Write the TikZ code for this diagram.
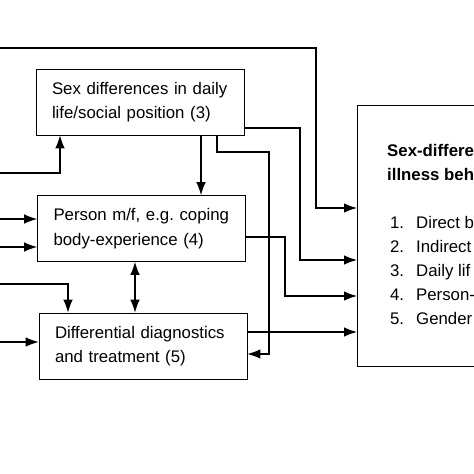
\documentclass[tikz,border=0pt]{standalone}
\usepackage{fontspec}
\setmainfont{Liberation Sans}
\usetikzlibrary{arrows.meta}
\tikzset{
  factor/.style={draw, line width=0.7pt, minimum height=66pt, text width=180pt,
    inner xsep=14pt, inner ysep=0pt, align=left,
    font=\fontsize{16.8}{24.5}\selectfont\frenchspacing},
  link/.style={line width=1.1pt, -{Latex[length=13pt,width=9.5pt]}},
  twoway/.style={line width=1.1pt, {Latex[length=13pt,width=9.5pt]}-{Latex[length=13pt,width=9.5pt]}},
}
\begin{document}
\begin{tikzpicture}[x=1pt, y=-1pt]
            \clip (0,0) rectangle (474,474);

            % Kasten in der Mitte
            \node (daily) at (140,102) [factor] {\hspace*{2pt}Sex differences in daily\\ \hspace*{2pt}life/social position (3)};
            \node (person) at (141.5,228.5) [factor] {\hspace*{2pt}Person m/f, e.g. coping\\ \hspace*{2pt}body-experience (4)};
            \node (diag) at (143,346) [factor] {\hspace*{2pt}Differential diagnostics\\ \hspace*{2pt}and treatment (5)};

            % Kasten rechts
            \node (out) at (357,105) [draw, line width=0.7pt, anchor=north west,
              minimum width=200pt, minimum height=261pt] {};
            \node (outtext) at (387,144) [anchor=north west, inner sep=0pt, align=left,
              font=\fontsize{16.8}{23.8}\selectfont]
              {\textbf{Sex-differe}\\
               \textbf{illness beh}\\[25pt]
               \makebox[29pt][l]{\,1.}Direct b\\
               \makebox[29pt][l]{\,2.}Indirect\\
               \makebox[29pt][l]{\,3.}Daily lif\\
               \makebox[29pt][l]{\,4.}Person-\\
               \makebox[29pt][l]{\,5.}Gender};

            % Eingaenge von links
            \coordinate (top) at (0,48);
            \coordinate (in3) at (0,173);
            \coordinate (in4a) at (0,219);
            \coordinate (in4b) at (0,247);
            \coordinate (in5a) at (0,284);
            \coordinate (in5b) at (0,342);

            % Pfeile
            \draw[link] (top) -| (316,208) -- (out.west |- 0,208);
            \draw[link] (in3) -| (daily.south -| 60,0);
            \draw[link] (in4a) -- (person.west |- in4a);
            \draw[link] (in4b) -- (person.west |- in4b);
            \draw[link] (in5a) -| (diag.north -| 68,0);
            \draw[link] (in5b) -- (diag.west |- in5b);
            \draw[link] (daily.south -| 201,0) -- (person.north -| 201,0);
            \draw[link] (daily.south -| 217,0) |- (269,152) |- (diag.east |- 0,354);
            \draw[twoway] (person.south -| 135,0) -- (diag.north -| 135,0);
            \draw[link] (daily.east |- 0,128) -| (300,260) -- (out.west |- 0,260);
            \draw[link] (person.east |- 0,237) -| (285,296) -- (out.west |- 0,296);
            \draw[link] (diag.east |- 0,332) -- (out.west |- 0,332);
        \end{tikzpicture}
\end{document}
